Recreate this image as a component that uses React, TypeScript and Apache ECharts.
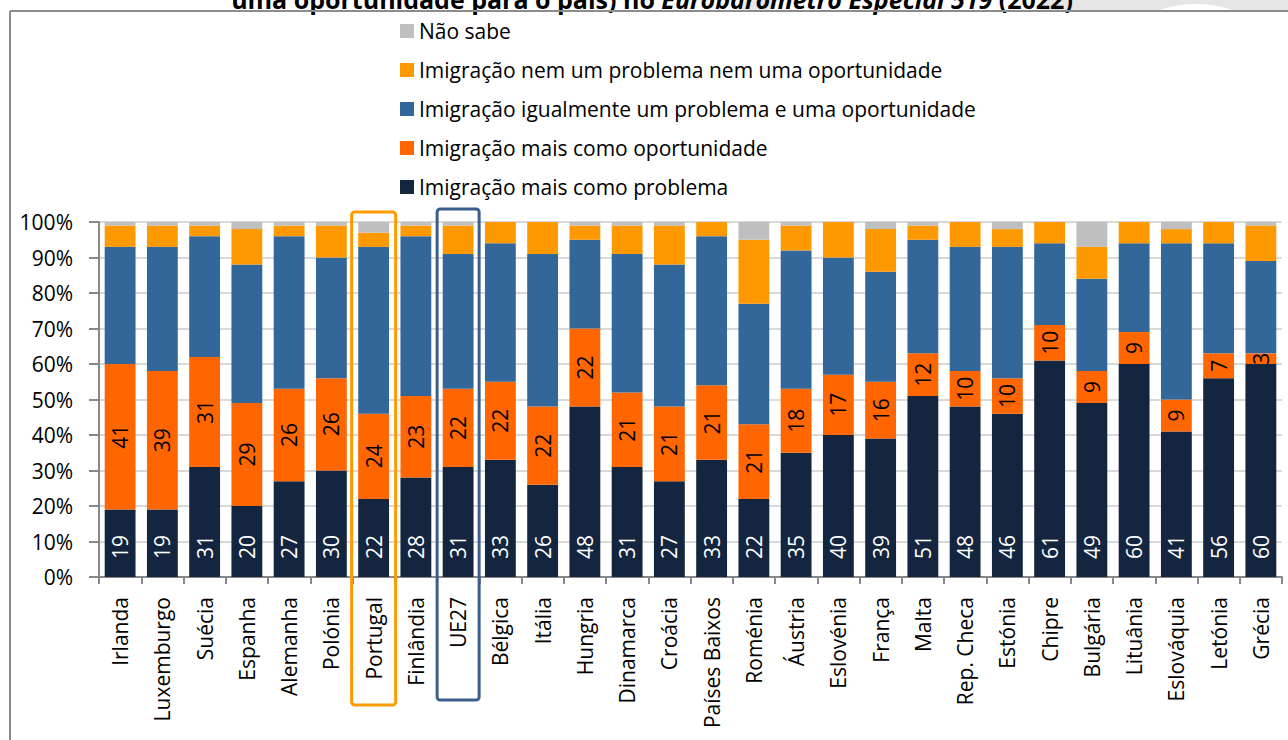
import React, { useEffect, useRef } from "react";
import * as echarts from "echarts";

const categories = ["Irlanda", "Luxemburgo", "Suécia", "Espanha", "Alemanha", "Polónia", "Portugal", "Finlândia", "UE27", "Bélgica", "Itália", "Hungria", "Dinamarca", "Croácia", "Países Baixos", "Roménia", "Áustria", "Eslovénia", "França", "Malta", "Rep. Checa", "Estónia", "Chipre", "Bulgária", "Lituânia", "Eslováquia", "Letónia", "Grécia"];
const maisProblema = [19, 19, 31, 20, 27, 30, 22, 28, 31, 33, 26, 48, 31, 27, 33, 22, 35, 40, 39, 51, 48, 46, 61, 49, 60, 41, 56, 60];
const maisOportunidade = [41, 39, 31, 29, 26, 26, 24, 23, 22, 22, 22, 22, 21, 21, 21, 21, 18, 17, 16, 12, 10, 10, 10, 9, 9, 9, 7, 3];
const igualmente = [33, 35, 34, 39, 43, 34, 47, 45, 38, 39, 43, 25, 39, 40, 42, 34, 39, 33, 31, 32, 35, 37, 23, 26, 25, 44, 31, 26];
const nemNem = [6, 6, 3, 10, 3, 9, 4, 3, 8, 6, 9, 4, 8, 11, 4, 18, 7, 10, 12, 4, 7, 5, 6, 9, 6, 4, 6, 10];
const naoSabe = [1, 1, 1, 2, 1, 1, 3, 1, 1, 0, 0, 1, 1, 1, 0, 5, 1, 0, 2, 1, 0, 2, 0, 7, 0, 2, 0, 1];
const yTicks = [0, 10, 20, 30, 40, 50, 60, 70, 80, 90, 100];

const seriesNames = [
  "Imigração mais como problema",
  "Imigração mais como oportunidade",
  "Imigração igualmente um problema e uma oportunidade",
  "Imigração nem um problema nem uma oportunidade",
  "Não sabe",
];
const colors = ["#13253F", "#FF6600", "#336699", "#FF9900", "#BFBFBF"];
const FONT = "'Open Sans', sans-serif";

export default function App() {
  const ref = useRef<HTMLDivElement>(null);
  useEffect(() => {
    document.body.style.margin = "0";
    const chart = echarts.init(ref.current!, null, { renderer: "svg" });
    const mk = (i: number, data: number[], label?: any) => ({
      name: seriesNames[i],
      type: "bar",
      stack: "total",
      data,
      barWidth: "73%",
      itemStyle: { color: colors[i] },
      label: label || { show: false },
    });
    chart.setOption({
      animation: false,
      backgroundColor: "#ffffff",
      textStyle: { fontFamily: FONT },
      grid: { left: 99, right: 6, top: 222, bottom: 163, containLabel: false },
      legend: {
        orient: "vertical",
        left: 395,
        top: 15,
        itemWidth: 14,
        itemHeight: 14,
        itemGap: 17,
        icon: "rect",
        data: [...seriesNames].reverse(),
        textStyle: { fontFamily: FONT, fontSize: 21, color: "#000", lineHeight: 22 },
      },
      xAxis: {
        type: "category",
        data: categories,
        axisLine: { lineStyle: { color: "#888888", width: 2 } },
        axisTick: { show: true, length: 7, lineStyle: { color: "#888888", width: 2 } },
        axisLabel: { rotate: 90, interval: 0, margin: 20, fontSize: 21, color: "#000", fontFamily: FONT },
      },
      yAxis: {
        type: "value",
        min: 0,
        max: 100,
        interval: 10,
        axisLine: { show: true, lineStyle: { color: "#888888", width: 2 } },
        axisTick: { show: true, length: 10, lineStyle: { color: "#888888", width: 2 } },
        axisLabel: {
          margin: 26,
          fontSize: 21,
          color: "#000",
          fontFamily: FONT,
          formatter: (v: number) => (yTicks.includes(v) ? v + "%" : ""),
        },
        splitLine: { lineStyle: { color: "#D9D9D9", width: 2 } },
      },
      series: [
        mk(0, maisProblema, {
          show: true,
          position: "insideBottom",
          rotate: 90,
          align: "left",
          verticalAlign: "middle",
          distance: 18,
          color: "#ffffff",
          fontSize: 21,
          fontFamily: FONT,
        }),
        mk(1, maisOportunidade, {
          show: true,
          position: "inside",
          rotate: 90,
          align: "center",
          verticalAlign: "middle",
          color: "#000000",
          fontSize: 21,
          fontFamily: FONT,
        }),
        mk(2, igualmente),
        mk(3, nemNem),
        mk(4, naoSabe),
      ],
    });

    const xP = chart.convertToPixel({ xAxisIndex: 0 }, "Portugal") as number;
    const xU = chart.convertToPixel({ xAxisIndex: 0 }, "UE27") as number;
    const y100 = chart.convertToPixel({ yAxisIndex: 0 }, 100) as number;

    chart.setOption({
      graphic: [
        { type: "polygon", shape: { points: [[745, 0], [775, 0], [768, 11], [738, 11]] }, style: { fill: "#E8E8E8" }, z: 1 },
        { type: "rect", shape: { x: 1040, y: 0, width: 248, height: 11 }, style: { fill: "#E6E6E6" }, z: 1 },
        { type: "ellipse", shape: { cx: 1196, cy: 40, rx: 64, ry: 36 }, style: { fill: "#ffffff" }, z: 2 },
        {
          type: "text",
          x: 652,
          y: 11,
          z: 5,
          style: {
            text: "{b|uma oportunidade para o país) no }{i|Eurobarómetro Especial 519}{b| (2022)}",
            align: "center",
            verticalAlign: "bottom",
            rich: {
              b: { fontFamily: FONT, fontSize: 25, fontWeight: "bold", fill: "#000" },
              i: { fontFamily: FONT, fontSize: 25, fontWeight: "bold", fontStyle: "italic", fill: "#000" },
            },
          },
        },
        { type: "rect", shape: { x: 0, y: 11, width: 1288, height: 729 }, style: { fill: "#ffffff" }, z: -1, silent: true },
        { type: "line", shape: { x1: 10, y1: 11, x2: 1288, y2: 11 }, style: { stroke: "#8C8C8C", lineWidth: 2 }, z: 6 },
        { type: "line", shape: { x1: 10, y1: 11, x2: 10, y2: 740 }, style: { stroke: "#8C8C8C", lineWidth: 2 }, z: 6 },
        {
          type: "rect",
          shape: { x: xP - 22, y: y100 - 10, width: 44, height: 705 - (y100 - 10), r: 3 },
          style: { fill: "none", stroke: "#FF9900", lineWidth: 3 },
          z: 10,
        },
        {
          type: "rect",
          shape: { x: xU - 21, y: y100 - 13, width: 42, height: 700 - (y100 - 13), r: 3 },
          style: { fill: "none", stroke: "#3C5E8C", lineWidth: 3 },
          z: 10,
        },
      ],
    });
    return () => chart.dispose();
  }, []);
  return <div ref={ref} style={{ width: 1288, height: 740 }} />;
}
